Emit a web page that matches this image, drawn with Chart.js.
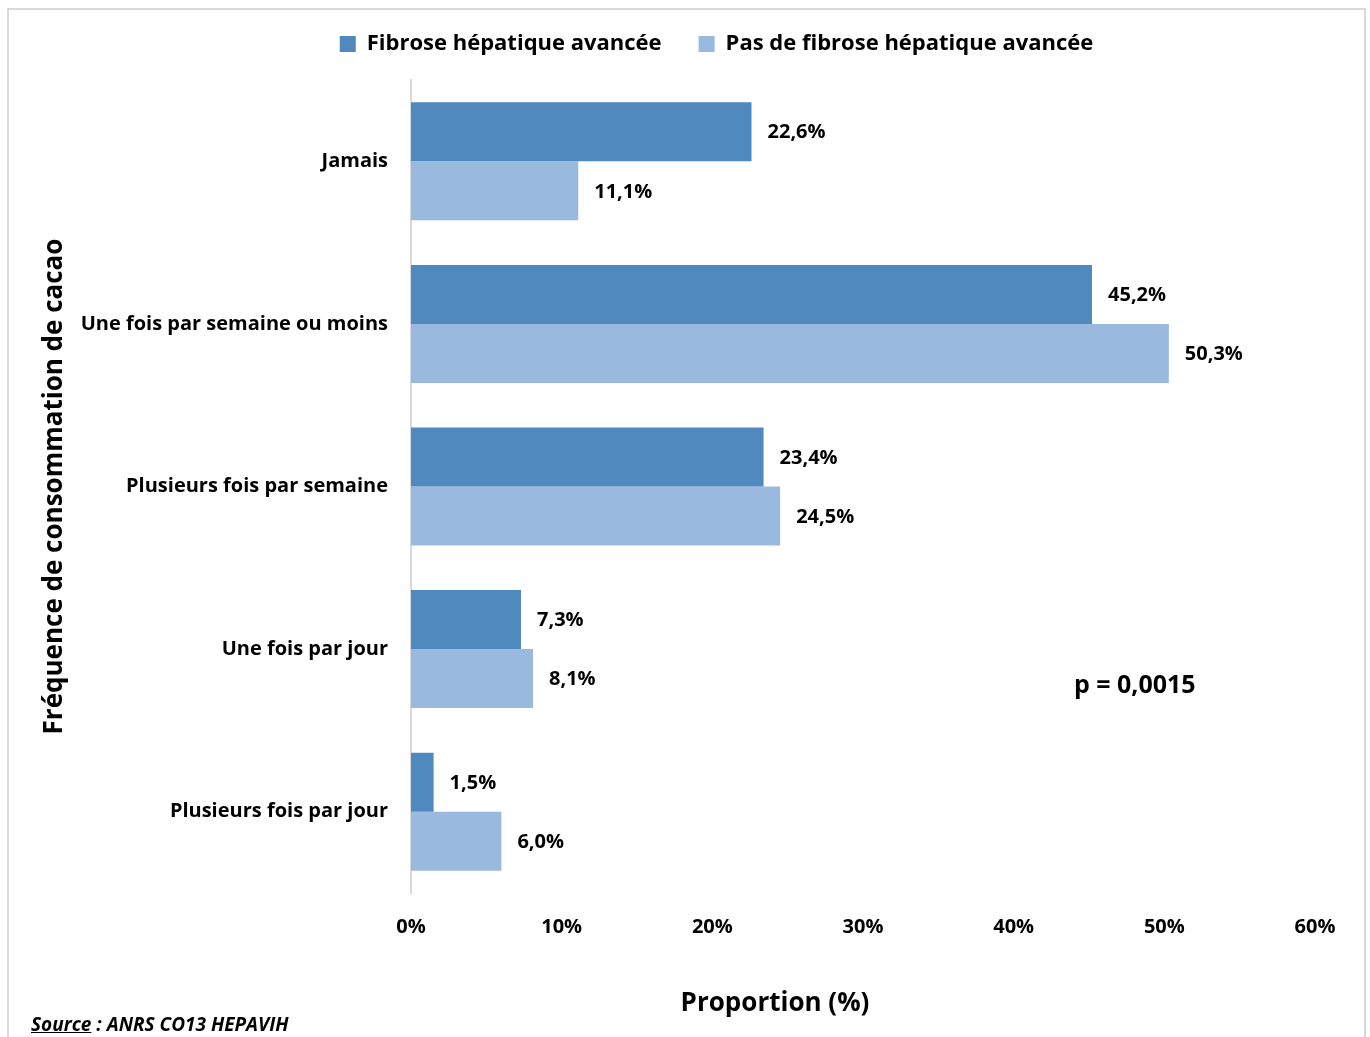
<!DOCTYPE html>
<html lang="fr">
<head>
    <meta charset="UTF-8">
    <title>Fréquence de consommation de cacao</title>
    <style>
        body {
            margin: 0;
            background: #fff;
            overflow: hidden;
        }

        .cadre {
            position: absolute;
            left: 7px;
            top: 8px;
            width: 1359px;
            height: 1100px;
            border: 2px solid #d9d9d9;
            box-sizing: border-box;
        }

        #zone {
            position: absolute;
            left: 0;
            top: 0;
            width: 1370px;
            height: 1037px;
        }

        .source {
            position: absolute;
            left: 31px;
            top: 1011px;
            font: italic bold 19px "Open Sans", sans-serif;
            color: #000;
        }
    </style>
</head>
<body>
    <div class="cadre"></div>
    <div id="zone"><canvas id="cacaoChart"></canvas></div>
    <div class="source"><u>Source</u> : ANRS CO13 HEPAVIH</div>

    <script src="https://cdn.jsdelivr.net/npm/chart.js"></script>
    <script>
        // Catégories de fréquence et proportions (%)
        const categories = [
            'Jamais',
            'Une fois par semaine ou moins',
            'Plusieurs fois par semaine',
            'Une fois par jour',
            'Plusieurs fois par jour'
        ];
        const fibroseAvancee = [22.6, 45.2, 23.4, 7.3, 1.5];
        const pasDeFibrose = [11.1, 50.3, 24.5, 8.1, 6.0];
        const graduations = [0, 10, 20, 30, 40, 50, 60];
        const pValeur = 'p = 0,0015';
        const titreX = 'Proportion (%)';

        const police = '"Open Sans", sans-serif';

        // étiquettes de valeur au bout des barres, p-valeur et titre de l'axe X
        const etiquettes = {
            id: 'etiquettes',
            beforeLayout(chart) {
                // un peu d'espace entre la légende et la zone de tracé
                const lg = chart.legend;
                if (lg && !lg._espace) {
                    const fit = lg.fit;
                    lg.fit = function () {
                        fit.call(this);
                        this.height += 15;
                    };
                    lg._espace = true;
                }
            },
            afterLayout(chart) {
                // légende décalée vers la droite
                if (chart.legend) chart.legend.left += 110;
            },
            afterDatasetsDraw(chart) {
                const ctx = chart.ctx;
                ctx.save();
                ctx.fillStyle = '#000';
                ctx.font = 'bold 20px ' + police;
                ctx.textAlign = 'left';
                ctx.textBaseline = 'middle';
                chart.data.datasets.forEach((ds, i) => {
                    chart.getDatasetMeta(i).data.forEach((barre, j) => {
                        const txt = ds.data[j].toFixed(1).replace('.', ',') + '%';
                        ctx.fillText(txt, barre.x + 16, barre.y + 1);
                    });
                });

                const x = chart.scales.x.getPixelForValue(44);
                const y = chart.scales.y.getPixelForValue(3) + 37;
                ctx.font = 'bold 25px ' + police;
                ctx.fillText(pValeur, x, y);

                ctx.font = 'bold 26px ' + police;
                ctx.textAlign = 'center';
                ctx.fillText(titreX, 775, 1004);
                ctx.restore();
            }
        };

        Chart.defaults.color = '#000';
        Chart.defaults.font.family = police;

        const ctx = document.getElementById('cacaoChart').getContext('2d');
        new Chart(ctx, {
            type: 'bar',
            data: {
                labels: categories,
                datasets: [{
                    label: 'Fibrose hépatique avancée',
                    data: fibroseAvancee,
                    backgroundColor: '#4F89BD',
                    categoryPercentage: 0.726,
                    barPercentage: 1.0
                }, {
                    label: 'Pas de fibrose hépatique avancée',
                    data: pasDeFibrose,
                    backgroundColor: '#99B9DF',
                    categoryPercentage: 0.726,
                    barPercentage: 1.0
                }]
            },
            options: {
                indexAxis: 'y',
                responsive: true,
                maintainAspectRatio: false,
                animation: false,
                layout: {
                    padding: { top: -4, left: 8, right: 55, bottom: 0 }
                },
                plugins: {
                    legend: {
                        position: 'top',
                        labels: {
                            boxWidth: 16,
                            boxHeight: 16,
                            padding: 37,
                            font: { size: 22, weight: 'bold' }
                        }
                    },
                    tooltip: { enabled: false }
                },
                scales: {
                    x: {
                        min: 0,
                        max: 60,
                        afterBuildTicks(scale) {
                            scale.ticks = graduations.map(v => ({ value: v }));
                        },
                        afterFit(scale) {
                            scale.height = 144;
                        },
                        grid: { display: false, drawTicks: false },
                        border: { display: false },
                        ticks: {
                            padding: 22,
                            maxRotation: 0,
                            font: { size: 20, weight: 'bold' },
                            callback: v => v + '%'
                        }
                    },
                    y: {
                        afterFit(scale) {
                            scale.width = 403;
                        },
                        grid: { display: false, drawTicks: false },
                        border: { display: true, color: '#d9d9d9', width: 2 },
                        ticks: {
                            padding: 23,
                            font: { size: 20, weight: 'bold' }
                        },
                        title: {
                            display: true,
                            text: 'Fréquence de consommation de cacao',
                            font: { size: 26, weight: 'bold' },
                            padding: { top: 31.4, bottom: 0 }
                        }
                    }
                }
            },
            plugins: [etiquettes]
        });
    </script>
</body>
</html>
